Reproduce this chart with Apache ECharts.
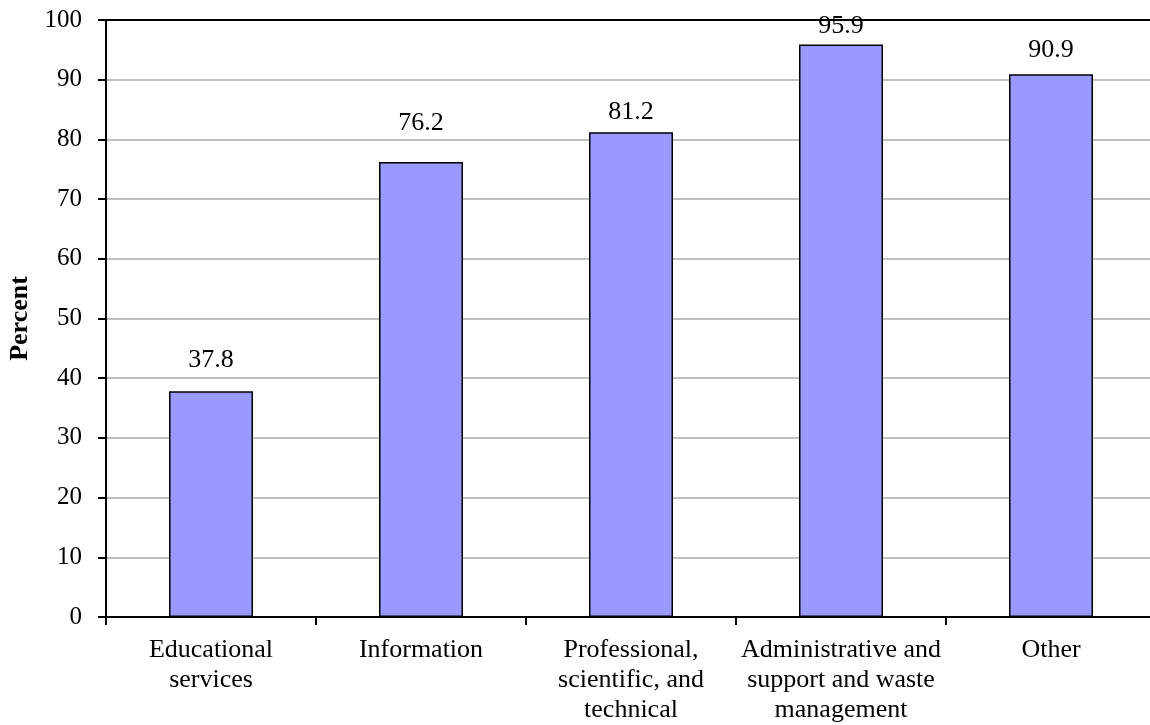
<!DOCTYPE html>
<html>
<head>
<meta charset="utf-8">
<script src="https://cdn.jsdelivr.net/npm/echarts@6/dist/echarts.min.js"></script>
<style>
html,body{margin:0;padding:0;background:#fff;}
#chart{width:1150px;height:725px;}
</style>
</head>
<body>
<div id="chart"></div>
<script>
const categories = ["Educational\nservices", "Information", "Professional,\nscientific, and\ntechnical", "Administrative and\nsupport and waste\nmanagement", "Other"];
const values = [37.8, 76.2, 81.2, 95.9, 90.9];
const yTicks = [0, 10, 20, 30, 40, 50, 60, 70, 80, 90, 100];
const yAxisTitle = "Percent";
// label gap above each bar (style only, px)
const labelGaps = [18, 26, 7, 5, 11];

const font = "'Liberation Serif', 'Times New Roman', serif";
const chart = echarts.init(document.getElementById('chart'), null, {renderer: 'canvas'});
chart.setOption({
  animation: false,
  backgroundColor: '#ffffff',
  grid: {left: 106, width: 1050, top: 20, bottom: 108, containLabel: false, outerBoundsMode: 'none'},
  xAxis: [{
    type: 'category',
    data: categories,
    position: 'bottom',
    axisLine: {show: true, lineStyle: {color: '#000', width: 2}},
    axisTick: {show: true, length: 8, lineStyle: {color: '#000', width: 2}},
    axisLabel: {color: '#000', fontFamily: font, fontSize: 26, lineHeight: 30, margin: 18, interval: 0}
  }, {
    type: 'category',
    data: categories,
    position: 'top',
    axisLine: {show: true, lineStyle: {color: '#000', width: 2}},
    axisTick: {show: false},
    axisLabel: {show: false}
  }],
  yAxis: {
    type: 'value',
    min: yTicks[0],
    max: yTicks[yTicks.length - 1],
    interval: 10,
    name: yAxisTitle,
    nameLocation: 'middle',
    nameGap: 72,
    nameTextStyle: {color: '#000', fontFamily: font, fontSize: 26, fontWeight: 'bold'},
    axisLine: {show: true, lineStyle: {color: '#000', width: 2}},
    axisTick: {show: true, length: 8, lineStyle: {color: '#000', width: 2}},
    axisLabel: {color: '#000', fontFamily: font, fontSize: 25, margin: 24},
    splitLine: {show: true, lineStyle: {color: '#c0c0c0', width: 2}}
  },
  series: [{
    type: 'bar',
    data: values.map((v, i) => ({value: v, label: {distance: labelGaps[i]}})),
    barWidth: '40%',
    itemStyle: {color: '#9999ff', borderColor: '#000', borderWidth: 1.5},
    label: {show: true, position: 'top', color: '#000', fontFamily: font, fontSize: 26,
      formatter: p => p.value.toFixed(1)}
  }]
});
</script>
</body>
</html>
